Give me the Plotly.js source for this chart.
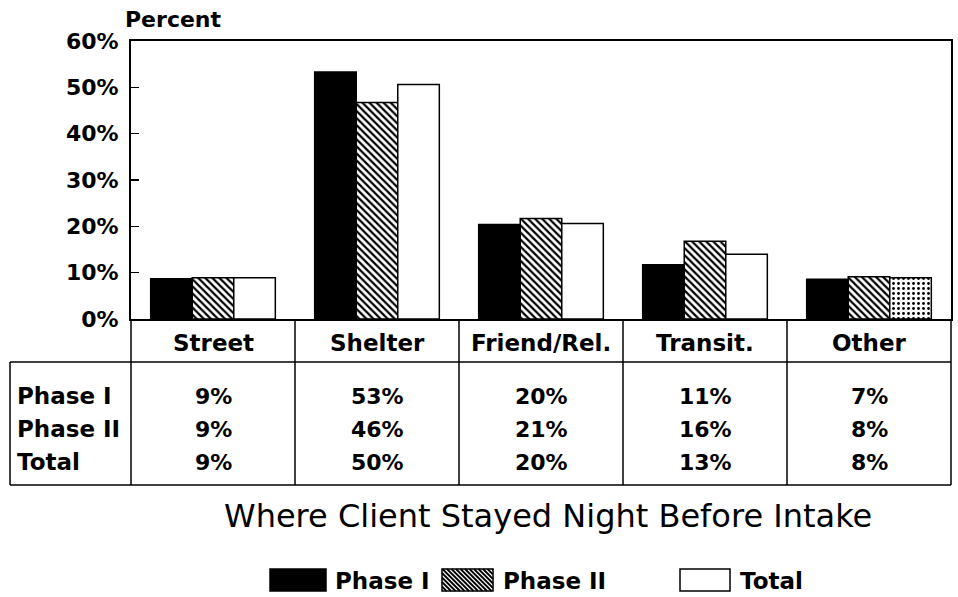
<!DOCTYPE html>
<html><head><meta charset="utf-8">
<script src="https://cdn.plot.ly/plotly-3.0.1.min.js"></script>
<style>html,body{margin:0;padding:0;background:#fff}#chart{width:958px;height:597px}</style>
</head><body><div id="chart"></div>
<script>
// ---- data ----
const categories = ['Street', 'Shelter', 'Friend/Rel.', 'Transit.', 'Other'];
const seriesNames = ['Phase I', 'Phase II', 'Total'];
const phase1 = [8.7, 53.3, 20.4, 11.7, 8.6];
const phase2 = [8.9, 46.7, 21.7, 16.8, 9.1];
const total  = [8.9, 50.6, 20.6, 14.0, 8.9];
const rowLabels = ['Phase I', 'Phase II', 'Total'];
const tablePhase1 = ['9%', '53%', '20%', '11%', '7%'];
const tablePhase2 = ['9%', '46%', '21%', '16%', '8%'];
const tableTotal  = ['9%', '50%', '20%', '13%', '8%'];
const yTicks = [0, 10, 20, 30, 40, 50, 60];
const yTickText = ['0%', '10%', '20%', '30%', '40%', '50%', '60%'];
const chartTitle = 'Where Client Stayed Night Before Intake';
const yLabel = 'Percent';

// ---- geometry helpers (pixel -> paper) ----
const L = 131, R = 951, T = 41, B = 319;
const px = x => (x - L) / (R - L);
const py = y => (B - y) / (B - T);
const FONT = 'DejaVu Sans, Verdana, sans-serif';

const traces = [
  { type: 'bar', name: seriesNames[0], x: categories, y: phase1,
    marker: { color: '#000', line: { color: '#000', width: 1.5 } } },
  { type: 'bar', name: seriesNames[1], x: categories, y: phase2,
    marker: { color: '#fff', line: { color: '#000', width: 1.5 },
      pattern: { shape: '\\', fgcolor: '#000', bgcolor: '#fff', size: 5, solidity: 0.45 } } },
  { type: 'bar', name: seriesNames[2], x: categories, y: total,
    marker: { color: '#fff', line: { color: '#000', width: 1.5 },
      pattern: { shape: ['', '', '', '', '.'], fgcolor: '#000', bgcolor: '#fff', size: 5, solidity: 0.25 } } }
];

const shapes = [];
const annotations = [];
const lineStyle = { color: '#000', width: 1.5 };
function hline(x0, x1, y) { shapes.push({ type: 'line', xref: 'paper', yref: 'paper', x0: px(x0), x1: px(x1), y0: py(y), y1: py(y), line: lineStyle }); }
function vline(x, y0, y1) { shapes.push({ type: 'line', xref: 'paper', yref: 'paper', x0: px(x), x1: px(x), y0: py(y0), y1: py(y1), line: lineStyle }); }
function txt(x, y, text, size, anchor, weight) {
  annotations.push({ xref: 'paper', yref: 'paper', x: px(x), y: py(y), text: text, showarrow: false,
    xanchor: anchor, yanchor: 'middle',
    font: { family: FONT, size: size, color: '#000', weight: weight } });
}

// table grid
const colW = (R - L) / categories.length;
const headerBottom = 362, tableBottom = 485, tableLeft = 10;
hline(tableLeft, R, headerBottom);
hline(tableLeft, R, tableBottom);
vline(tableLeft, headerBottom, tableBottom);
for (let i = 0; i <= categories.length; i++) vline(L + i * colW, B, tableBottom);

// header labels
categories.forEach((c, i) => txt(L + (i + 0.5) * colW, 343, c, 23, 'center', 'bold'));
// table rows
const rowsData = [tablePhase1, tablePhase2, tableTotal];
const rowY = [396, 429, 462];
rowsData.forEach((row, r) => {
  txt(15, rowY[r], rowLabels[r], 23, 'left', 'bold');
  row.forEach((v, i) => txt(L + (i + 0.5) * colW, rowY[r], v, 22, 'center', 'bold'));
});

// y label
txt(123, 19, yLabel, 22, 'left', 'bold');
// title
txt(548, 516, chartTitle, 32, 'center', 'normal');

// legend
const legBoxes = [[270, 326], [442, 493], [680, 730]];
const legY0 = 569, legY1 = 591;
const legTextX = [333, 501, 738];
legBoxes.forEach((b, i) => {
  shapes.push({ type: 'rect', xref: 'paper', yref: 'paper', x0: px(b[0]), x1: px(b[1]), y0: py(legY1), y1: py(legY0),
    fillcolor: i === 0 ? '#000' : '#fff', line: { color: '#000', width: 1.5 } });
  if (i === 1) {
    const h = legY1 - legY0, w = b[1] - b[0];
    let d = '';
    for (let t = -h; t < w; t += 4.5) {
      let sx = b[0] + t, sy = legY0, ex = b[0] + t + h, ey = legY1;
      if (sx < b[0]) { sy = legY0 + (b[0] - sx); sx = b[0]; }
      if (ex > b[1]) { ey = legY1 - (ex - b[1]); ex = b[1]; }
      d += `M${px(sx)},${py(sy)} L${px(ex)},${py(ey)} `;
    }
    shapes.push({ type: 'path', xref: 'paper', yref: 'paper', path: d, line: { color: '#000', width: 1.8 } });
  }
  txt(legTextX[i], 581, seriesNames[i], 23, 'left', 'bold');
});

const layout = {
  width: 958, height: 597,
  margin: { l: L, r: 958 - R, t: T, b: 597 - B, pad: 0 },
  paper_bgcolor: '#fff', plot_bgcolor: '#fff',
  showlegend: false,
  barmode: 'group', bargap: 0.24, bargroupgap: 0,
  xaxis: { type: 'category', range: [-0.5, 4.5], showticklabels: false, ticks: '',
    showline: true, linecolor: '#000', linewidth: 2, mirror: true, showgrid: false, zeroline: false, fixedrange: true },
  yaxis: { range: [0, 60], tickmode: 'array', tickvals: yTicks, ticktext: yTickText,
    ticks: 'inside', ticklen: 8, tickwidth: 1.5, tickcolor: '#000',
    showline: true, linecolor: '#000', linewidth: 2, mirror: true, showgrid: false, zeroline: false,
    ticklabelstandoff: 6,
    tickfont: { family: FONT, size: 22, color: '#000', weight: 'bold' } },
  shapes: shapes,
  annotations: annotations
};

Plotly.newPlot('chart', traces, layout, { displayModeBar: false, staticPlot: true });
</script>
</body></html>
